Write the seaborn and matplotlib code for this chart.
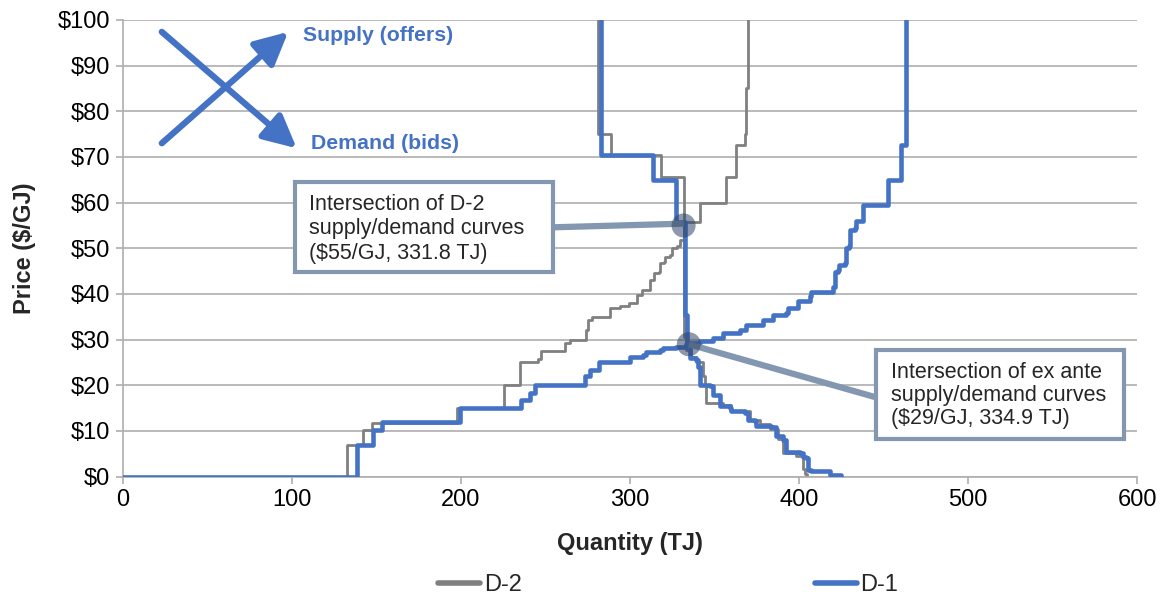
import seaborn as sns
import pandas as pd
from matplotlib import pyplot as plt
from matplotlib.patches import Rectangle

#--------------------------Data-------------------------------------------------
# step curves: at quantity q the price changes to p (drawn with steps-post)
d1_supply_q = [0, 138.8, 148.2, 153.2, 199.5, 235.9, 240.8, 243.8, 273.3, 276.3,
               281.8, 299.9, 307.8, 309.8, 317.7, 319.6, 327.5, 333.4, 334.4, 341.3,
               349.2, 355.1, 365.0, 368.9, 378.7, 384.6, 392.6, 393.5, 399.4, 406.3,
               407.3, 420.1, 421.1, 423.1, 423.6, 427.0, 427.6, 429.6, 430.0, 432.9,
               433.9, 437.8, 452.6, 460.5, 463.1]
d1_supply_p = [0, 7.0, 10.3, 12.0, 15.0, 16.8, 18.3, 20.0, 22.0, 23.4,
               25.1, 26.3, 26.7, 27.4, 27.8, 28.2, 28.5, 29.0, 29.3, 29.6,
               30.3, 31.4, 32.2, 33.3, 34.4, 35.4, 35.8, 36.9, 38.4, 39.5,
               40.5, 41.6, 44.9, 45.3, 46.4, 46.8, 50.0, 50.4, 54.0, 54.4,
               55.9, 59.5, 65.0, 72.6, 100]

d1_demand_q = [283.2, 283.2, 313.7, 327.5, 332.4, 333.8, 335.4, 339.4, 340.3, 341.3,
               347.2, 349.2, 353.1, 353.5, 359.0, 360.0, 367.9, 369.9, 373.8, 374.8,
               383.7, 386.6, 390.5, 392.6, 400.4, 402.4, 404.4, 405.3, 407.3, 418.1,
               425.1]
d1_demand_p = [100, 70.5, 65.0, 55.8, 35.5, 29.3, 26.0, 25.6, 24.1, 20.1,
               19.8, 17.9, 17.6, 15.4, 15.0, 14.3, 13.9, 12.5, 12.1, 11.0,
               10.9, 8.8, 8.1, 5.5, 5.2, 4.4, 4.1, 1.5, 1.2, 0.4,
               0.2]

d2_supply_q = [0, 132.6, 142.4, 147.4, 197.7, 225.3, 235.2, 245.8, 247.4, 261.8,
               264.8, 273.8, 275.0, 277.6, 288.5, 294.4, 299.3, 304.3, 307.2, 312.1,
               314.1, 317.0, 318.0, 320.0, 321.0, 324.0, 325.0, 327.9, 329.9, 331.8,
               331.8, 341.5, 357.0, 363.0, 368.0, 368.6, 369.7]
d2_supply_p = [0, 6.9, 10.2, 11.8, 15.0, 20.1, 25.2, 25.7, 27.6, 29.2,
               29.9, 32.2, 34.3, 35.0, 36.9, 37.4, 38.0, 39.8, 40.9, 43.1,
               44.5, 44.9, 46.7, 47.1, 48.2, 48.5, 50.0, 50.4, 51.8, 53.3,
               55.8, 59.9, 65.6, 72.6, 75.0, 85.0, 100]

d2_demand_q = [281.0, 281.0, 289.0, 318.7, 332.2, 333.2, 336.4, 339.4, 343.3, 344.3,
               345.3, 355.1, 360.0, 370.9, 376.8, 382.7, 387.5, 390.4, 398.5, 402.4,
               403.5, 404.5]
d2_demand_p = [100, 75.0, 70.4, 65.7, 30.5, 27.8, 26.3, 25.0, 22.0, 20.1,
               16.1, 15.6, 14.3, 12.5, 11.5, 10.5, 8.2, 5.2, 4.6, 1.6,
               0.5, 0]

intersect_q = [331.8, 334.9]
intersect_p = [55, 29]

x_ticks = [0, 100, 200, 300, 400, 500, 600]
y_ticks = [0, 10, 20, 30, 40, 50, 60, 70, 80, 90, 100]

#--------------------------Style------------------------------------------------
sns.set_style('white')
plt.rcParams['font.family'] = ['Liberation Sans', 'DejaVu Sans']

grey = '#808080'
blue = '#4472C4'
box_col = '#8497B0'
grid_col = '#AEAEAE'

fig = plt.figure(figsize=(11.66, 5.98), dpi=100)
ax = fig.add_axes([0.1051, 0.2029, 0.8701, 0.7637])

#--------------------------Curves-----------------------------------------------
curves = [
    (d2_supply_q, d2_supply_p, grey, 2.0, 'D-2', 2),
    (d2_demand_q, d2_demand_p, grey, 2.0, None, 2),
    (d1_supply_q, d1_supply_p, blue, 3.3, 'D-1', 3),
    (d1_demand_q, d1_demand_p, blue, 3.3, None, 3),
]
for q, p, col, lw, lab, z in curves:
    df = pd.DataFrame({'q': q, 'p': p})
    sns.lineplot(data=df, x='q', y='p', color=col, linewidth=lw, label=lab,
                 sort=False, estimator=None, drawstyle='steps-post',
                 zorder=z, ax=ax, legend=False)

#--------------------------Annotations------------------------------------------
# intersection dots
sns.scatterplot(x=intersect_q, y=intersect_p, s=300, color='#2F4468', alpha=0.55,
                edgecolor='none', zorder=6, ax=ax, legend=False)

# connector lines
ax.plot([254.7, intersect_q[0]], [54.6, intersect_p[0] + 0.4], color=box_col,
        lw=4.5, zorder=5, solid_capstyle='butt')
ax.plot([intersect_q[1], 445.3], [intersect_p[1], 17.4], color=box_col,
        lw=4.5, zorder=5, solid_capstyle='butt')

# boxes
ax.add_patch(Rectangle((102.1, 44.8), 152.6, 19.7, facecolor='white',
                       edgecolor=box_col, lw=3, zorder=7))
ax.text(110.5, 62.0, 'Intersection of D-2\nsupply/demand curves\n($55/GJ, 331.8 TJ)',
        fontsize=15.5, va='top', ha='left', linespacing=1.22, zorder=8)
ax.add_patch(Rectangle((445.3, 8.3), 146.7, 19.4, facecolor='white',
                       edgecolor=box_col, lw=3, zorder=7))
ax.text(454.5, 25.1, 'Intersection of ex ante\nsupply/demand curves\n($29/GJ, 334.9 TJ)',
        fontsize=15.5, va='top', ha='left', linespacing=1.13, zorder=8)

# supply / demand arrows
arrow_kw = dict(arrowstyle='-|>,head_length=0.9,head_width=0.45', color=blue,
                lw=4.5, mutation_scale=22, shrinkA=0, shrinkB=0)
ax.annotate('', xy=(98.0, 97.4), xytext=(23.2, 73.0), arrowprops=arrow_kw, zorder=4)
ax.annotate('', xy=(103.0, 71.9), xytext=(23.2, 97.4), arrowprops=arrow_kw, zorder=4)
ax.text(106.5, 96.7, 'Supply (offers)', color=blue, fontsize=15.3, weight='bold',
        va='center', ha='left')
ax.text(111.2, 73.0, 'Demand (bids)', color=blue, fontsize=15.3, weight='bold',
        va='center', ha='left')

#--------------------------Axes-------------------------------------------------
ax.set_xlim(0, 600)
ax.set_ylim(0, 100)
ax.set_xticks(x_ticks)
ax.set_xticklabels([str(x) for x in x_ticks], fontsize=17)
ax.set_yticks(y_ticks)
ax.set_yticklabels(['$' + str(y) for y in y_ticks], fontsize=17)
ax.yaxis.grid(True, color=grid_col, lw=1.2)
ax.xaxis.grid(False)
ax.set_axisbelow(True)
for s in ['top', 'right']:
    ax.spines[s].set_visible(False)
for s in ['left', 'bottom']:
    ax.spines[s].set_color(grid_col)
    ax.spines[s].set_linewidth(1.2)
ax.tick_params(axis='both', which='major', length=5, width=1.2, color=grid_col,
               direction='out', pad=4, labelcolor='black')
ax.tick_params(axis='x', bottom=True)
ax.tick_params(axis='y', left=True)

ax.set_xlabel('Quantity (TJ)', fontsize=17, weight='bold')
ax.set_ylabel('Price ($/GJ)', fontsize=17, weight='bold')
ax.xaxis.set_label_coords(0.5, -0.121)
ax.yaxis.set_label_coords(-0.085, 0.5)

handles, labels = ax.get_legend_handles_labels()
leg = fig.legend(handles, labels, loc='center', bbox_to_anchor=(0.573, 0.022),
                 ncol=2, frameon=False, fontsize=17, handlelength=1.8,
                 handletextpad=0.15, columnspacing=12.4)
for h in leg.get_lines():
    h.set_linewidth(4)

fig.savefig('out.png', dpi=100)
